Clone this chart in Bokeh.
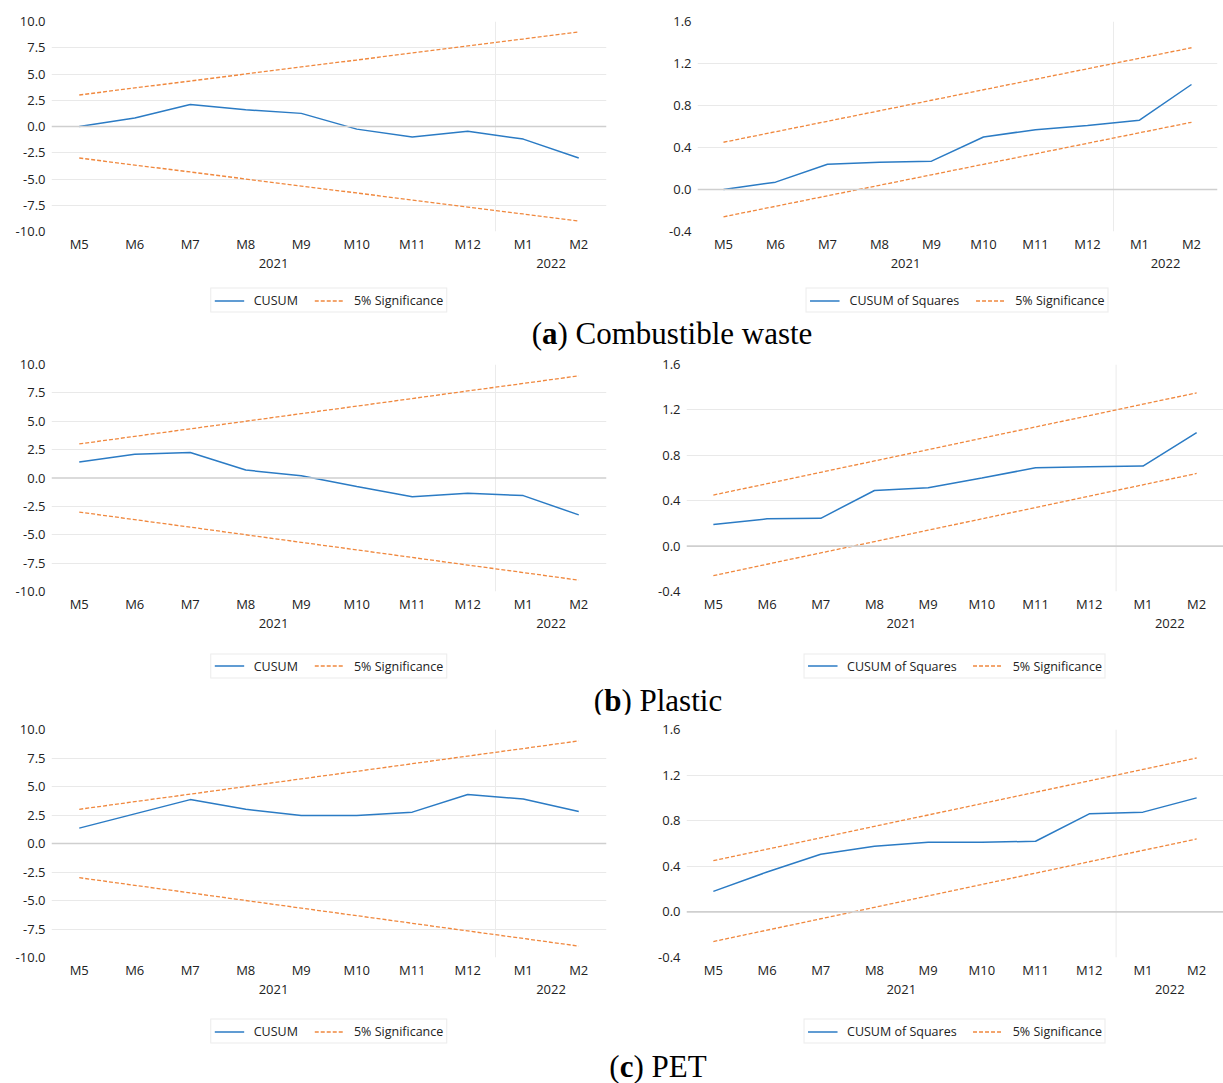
from bokeh.plotting import figure
from bokeh.models import (FactorRange, Range1d, FixedTicker, NumeralTickFormatter, Span,
                          Legend, LegendItem, ColumnDataSource, Div)
from bokeh.layouts import column, row
from bokeh.embed import file_html
from bokeh.resources import INLINE

months = ["M5", "M6", "M7", "M8", "M9", "M10", "M11", "M12", "M1", "M2"]
years = ["2021"] * 8 + ["2022"] * 2

cusum_a = [0.0, 0.8, 2.1, 1.6, 1.25, -0.25, -1.0, -0.45, -1.2, -3.0]
cusumsq_a = [0.0, 0.07, 0.24, 0.26, 0.27, 0.50, 0.57, 0.61, 0.66, 1.0]
cusum_b = [1.4, 2.1, 2.25, 0.7, 0.2, -0.75, -1.65, -1.35, -1.55, -3.25]
cusumsq_b = [0.19, 0.24, 0.245, 0.49, 0.515, 0.60, 0.69, 0.70, 0.705, 1.0]
cusum_c = [1.35, 2.6, 3.85, 3.0, 2.45, 2.45, 2.75, 4.3, 3.9, 2.8]
cusumsq_c = [0.18, 0.35, 0.505, 0.575, 0.61, 0.61, 0.62, 0.86, 0.875, 1.0]

cusum_upper = [3.0, 3.67, 4.33, 5.0, 5.67, 6.33, 7.0, 7.67, 8.33, 9.0]
cusum_lower = [-3.0, -3.67, -4.33, -5.0, -5.67, -6.33, -7.0, -7.67, -8.33, -9.0]
sq_upper = [0.45, 0.55, 0.65, 0.75, 0.85, 0.95, 1.05, 1.15, 1.25, 1.35]
sq_lower = [-0.26, -0.16, -0.06, 0.04, 0.14, 0.24, 0.34, 0.44, 0.54, 0.64]

cusum_ticks = [-10.0, -7.5, -5.0, -2.5, 0.0, 2.5, 5.0, 7.5, 10.0]
sq_ticks = [-0.4, 0.0, 0.4, 0.8, 1.2, 1.6]

captions = [("a", "Combustible waste"), ("b", "Plastic"), ("c", "PET")]
legend_labels = ["CUSUM", "CUSUM of Squares", "5% Significance"]

BLUE = "#2b7bc4"
ORANGE = "#f0883e"
TXT = "#222222"
FONT = "Open Sans"


def xrange_():
    return FactorRange(factors=list(zip(years, months)), factor_padding=0, group_padding=0,
                       subgroup_padding=0, range_padding=0)


def panel(src, yr, yticks, w, h, bl, br, bt, bb):
    p = figure(x_range=xrange_(), y_range=Range1d(yr[0], yr[1]), width=w, height=h,
               output_backend="svg", toolbar_location=None,
               min_border_left=bl, min_border_right=br,
               min_border_top=bt, min_border_bottom=bb)
    p.outline_line_color = None
    p.xgrid.grid_line_color = None
    p.yaxis.ticker = FixedTicker(ticks=yticks)
    p.yaxis.formatter = NumeralTickFormatter(format="0.0")
    p.ygrid.ticker = FixedTicker(ticks=[t for t in yticks if t not in (yr[0], yr[1], 0.0)])
    p.ygrid.grid_line_color = "#e9e9e9"
    p.ygrid.grid_line_width = 1.2
    for ax in (p.xaxis, p.yaxis):
        ax.axis_line_color = None
        ax.major_tick_line_color = None
        ax.minor_tick_line_color = None
        ax.major_tick_out = 0
        ax.major_tick_in = 0
        ax.minor_tick_out = 0
        ax.major_label_text_font = FONT
        ax.major_label_text_font_size = "13px"
        ax.major_label_text_color = TXT
    p.yaxis.major_label_standoff = 6
    p.xaxis.major_label_standoff = 3
    p.xaxis.group_text_font = FONT
    p.xaxis.group_text_font_size = "13px"
    p.xaxis.group_text_color = TXT
    p.xaxis.group_text_font_style = "normal"
    p.xaxis.separator_line_color = None

    p.add_layout(Span(location=0, dimension="width", line_color="#cfcfcf", line_width=1.6))
    sep = ColumnDataSource(dict(x0=[("2021", "M12", 0.5)], y0=[yr[0]], y1=[yr[1]]))
    p.segment(x0="x0", y0="y0", x1="x0", y1="y1", source=sep, line_color="#ebebeb", line_width=1)
    p.line("x", "up", source=src, line_color=ORANGE, line_dash="4 2", line_width=1.3)
    p.line("x", "lo", source=src, line_color=ORANGE, line_dash="4 2", line_width=1.3)
    p.line("x", "v", source=src, line_color=BLUE, line_width=1.5)
    return p


def legend_fig(src, name, w, h, bl, br):
    # legend-only strip: its lines use the same data but lie outside the visible y-range
    q = figure(x_range=xrange_(), y_range=Range1d(1000, 1001), width=w, height=h,
               output_backend="svg", toolbar_location=None,
               min_border_left=bl, min_border_right=br, min_border_top=0, min_border_bottom=0,
               x_axis_location=None, y_axis_location=None)
    q.outline_line_color = None
    q.grid.visible = False
    r_v = q.line("x", "v", source=src, line_color=BLUE, line_width=1.5)
    r_s = q.line("x", "up", source=src, line_color=ORANGE, line_dash="4 2", line_width=1.3)
    leg = Legend(items=[LegendItem(label=name, renderers=[r_v]),
                        LegendItem(label=legend_labels[2], renderers=[r_s])],
                 orientation="horizontal", location="center",
                 border_line_color="#d9d9d9", border_line_width=1,
                 background_fill_color="white", background_fill_alpha=1,
                 label_text_font=FONT, label_text_font_size="12.5px", label_text_color=TXT,
                 glyph_width=30, glyph_height=12, label_height=12, label_standoff=10,
                 spacing=16, padding=3, margin=0)
    q.add_layout(leg, "center")
    return q


def caption(letter, text, h, pad):
    return Div(text=(f'<div style="width:1223px;height:{h}px;box-sizing:border-box;padding-left:{pad}px;'
                     f'text-align:center;font-family:\'Liberation Serif\';font-size:31px;'
                     f'line-height:{h}px;color:#000;white-space:nowrap;overflow:visible">'
                     f'(<b>{letter}</b>) {text}</div>'),
               width=1223, height=h, margin=(0, 0, 0, 0))


LW, RW = 640, 583

sa = ColumnDataSource(dict(x=list(zip(years, months)), v=cusum_a, up=cusum_upper, lo=cusum_lower))
sa2 = ColumnDataSource(dict(x=list(zip(years, months)), v=cusumsq_a, up=sq_upper, lo=sq_lower))
sb = ColumnDataSource(dict(x=list(zip(years, months)), v=cusum_b, up=cusum_upper, lo=cusum_lower))
sb2 = ColumnDataSource(dict(x=list(zip(years, months)), v=cusumsq_b, up=sq_upper, lo=sq_lower))
sc = ColumnDataSource(dict(x=list(zip(years, months)), v=cusum_c, up=cusum_upper, lo=cusum_lower))
sc2 = ColumnDataSource(dict(x=list(zip(years, months)), v=cusumsq_c, up=sq_upper, lo=sq_lower))

fa_l = panel(sa, (-10, 10), cusum_ticks, LW, 283, 51, 34, 21, 52)
fa_r = panel(sa2, (-0.4, 1.6), sq_ticks, RW, 283, 57, 6, 21, 52)
la_l = legend_fig(sa, legend_labels[0], LW, 34, 51, 34)
la_r = legend_fig(sa2, legend_labels[1], RW, 34, 57, 6)

fb_l = panel(sb, (-10, 10), cusum_ticks, LW, 292, 51, 34, 13, 52)
fb_r = panel(sb2, (-0.4, 1.6), sq_ticks, RW, 292, 46, 0, 13, 52)
lb_l = legend_fig(sb, legend_labels[0], LW, 45, 51, 34)
lb_r = legend_fig(sb2, legend_labels[1], RW, 45, 46, 0)

fc_l = panel(sc, (-10, 10), cusum_ticks, LW, 295, 51, 34, 15, 52)
fc_r = panel(sc2, (-0.4, 1.6), sq_ticks, RW, 295, 46, 0, 15, 52)
lc_l = legend_fig(sc, legend_labels[0], LW, 44, 51, 34)
lc_r = legend_fig(sc2, legend_labels[1], RW, 44, 46, 0)

cap_a = caption(captions[0][0], captions[0][1], 34, 121)
cap_b = caption(captions[1][0], captions[1][1], 26, 93)
cap_c = caption(captions[2][0], captions[2][1], 28, 93)

layout = column(row(fa_l, fa_r), row(la_l, la_r), cap_a,
                row(fb_l, fb_r), row(lb_l, lb_r), cap_b,
                row(fc_l, fc_r), row(lc_l, lc_r), cap_c)
open("out.html", "w").write(file_html(layout, INLINE))
